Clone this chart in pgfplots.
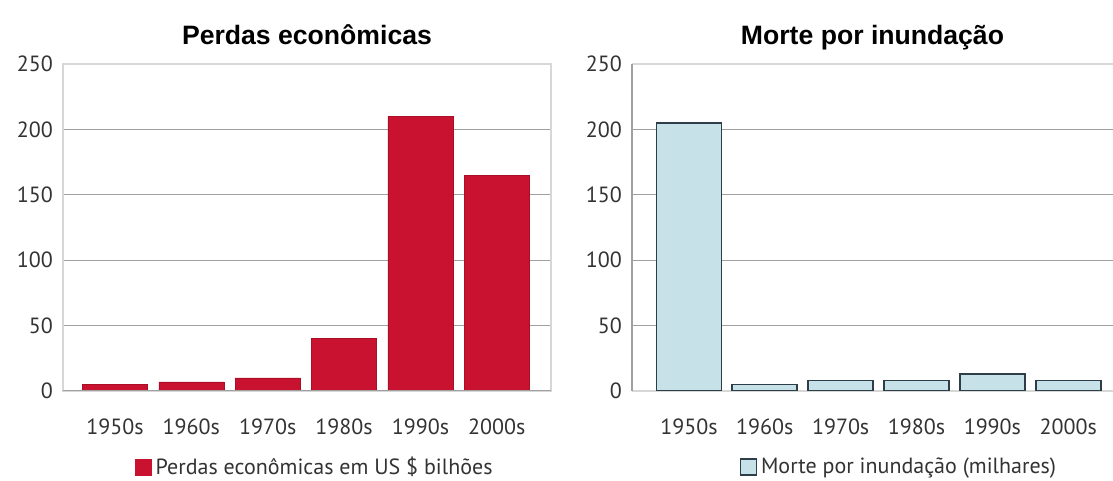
\documentclass[border=0pt]{standalone}
\usepackage{pgfplots}
\pgfplotsset{compat=1.18}
\usepackage{fontspec}
\setmainfont{PT Sans}
\newfontfamily\titlefont{Liberation Sans}
\definecolor{barred}{RGB}{200,18,47}
\definecolor{barblue}{RGB}{199,225,233}
\definecolor{bluedge}{RGB}{45,62,72}
\definecolor{gridc}{RGB}{160,160,160}
\definecolor{framec}{RGB}{215,215,215}
\pgfplotsset{
  myax/.style={
    scale only axis,
    anchor=south west,
    height=163.5pt,
    ymin=0, ymax=250,
    ytick={0,50,100,150,200,250},
    xtick={0,1,2,3,4,5},
    xticklabels={1950s,1960s,1970s,1980s,1990s,2000s},
    major tick length=0pt,
    ymajorgrids,
    grid style={draw=gridc, line width=0.6pt},
    /pgf/number format/assume math mode=true,
    tick label style={font=\fontsize{11}{13}\selectfont, text=black!80},
    xticklabel style={anchor=base, yshift=-22pt},
    yticklabel style={xshift=-1.5pt},
    title style={at={(0.5,1)}, anchor=base, yshift=3.5pt, font=\titlefont\bfseries\fontsize{13.3}{15}\selectfont},
    legend style={draw=none, fill=none, anchor=center, font=\fontsize{11}{13}\selectfont, text=black!80,
      /tikz/every even column/.append style={column sep=0pt}},
    legend cell align=left,
    ybar, bar width=32.5pt,
  },
}
\begin{document}
\begin{tikzpicture}
\useasboundingbox (0,0) rectangle (556.5pt,240.5pt);
\begin{axis}[myax,
  at={(31.5pt,45pt)}, width=244pt,
  xmin=-0.68, xmax=5.71,
  axis line style={draw=framec, line width=0.8pt},
  title={Perdas econômicas},
  legend style={at={(0.518,-0.232)}},
  legend image code/.code={\fill[barred] (0pt,-4pt) rectangle (8pt,4pt);},
]
\addplot[fill=barred, draw=barred!85!black, line width=0.3pt] coordinates {(0,5) (1,7) (2,10) (3,40) (4,210) (5,165)};
\addlegendentry{Perdas econômicas em US \$ bilhões}
\draw[gridc, line width=0.8pt] (axis cs:-0.68,0) -- (axis cs:5.71,0);
\end{axis}
\begin{axis}[myax,
  at={(316pt,45pt)}, width=240.5pt,
  xmin=-0.75, xmax=5.59,
  axis x line*=box, axis y line*=left,
  axis line style={-},
  x axis line style={draw=framec, line width=0.8pt},
  y axis line style={draw=gridc, line width=0.8pt},
  title={Morte por inundação},
  legend style={at={(0.557,-0.232)}},
  legend image code/.code={\draw[fill=barblue, draw=bluedge, line width=0.7pt] (0pt,-4pt) rectangle (8pt,4pt);},
]
\addplot[fill=barblue, draw=bluedge, line width=0.9pt] coordinates {(0,205) (1,5) (2,8) (3,8) (4,13) (5,8)};
\addlegendentry{Morte por inundação (milhares)}
\end{axis}
\end{tikzpicture}
\end{document}
